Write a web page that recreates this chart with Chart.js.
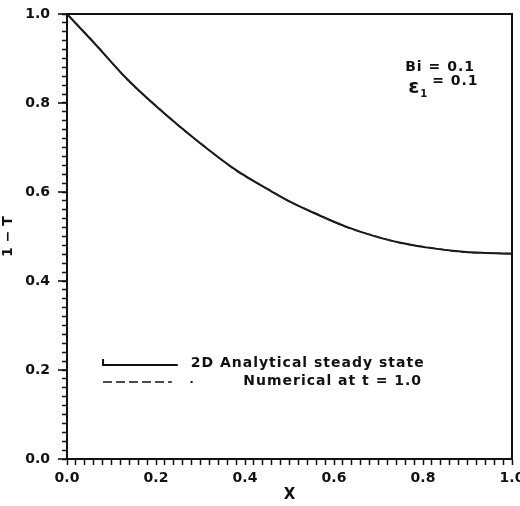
<!DOCTYPE html>
<html>
<head>
<meta charset="utf-8">
<script src="https://cdn.jsdelivr.net/npm/chart.js@4/dist/chart.umd.min.js"></script>
<style>
  html, body { margin:0; padding:0; background:#fff; }
  #wrap { width:520px; height:506px; }
</style>
</head>
<body>
<div id="wrap"><canvas id="grafico"></canvas></div>
<script>
// Dados
const posX = [0, 0.06, 0.135, 0.21, 0.25, 0.31, 0.38, 0.46, 0.50, 0.55, 0.63, 0.70, 0.75, 0.81, 0.89, 1.0];
const analitico = [1.0, 0.936, 0.854, 0.784, 0.750, 0.701, 0.649, 0.601, 0.579, 0.555, 0.521, 0.498, 0.486, 0.475, 0.466, 0.461];
const numerico  = [1.0, 0.937, 0.853, 0.785, 0.749, 0.702, 0.648, 0.602, 0.578, 0.556, 0.520, 0.499, 0.485, 0.476, 0.465, 0.462];
const rotulosX = ["0.0", "0.2", "0.4", "0.6", "0.8", "1.0"];
const rotulosY = ["0.0", "0.2", "0.4", "0.6", "0.8", "1.0"];
const legendaTextos = ["2D Analytical steady state", "Numerical at t = 1.0"];

const FONTE = "'DejaVu Sans', sans-serif";
const pares = (xs, ys) => xs.map((x, i) => ({ x, y: ys[i] }));
const ehMaior = v => Math.abs(v * 5 - Math.round(v * 5)) < 1e-6;
const rotulo = (lista, v) => ehMaior(v) ? lista[Math.round(v * 5)] : "";

// moldura, ticks maiores, legenda e parametros
const extras = {
  id: "extras",
  afterDraw(chart){
    const { ctx, chartArea: a, scales: { x, y } } = chart;
    ctx.save();
    ctx.strokeStyle = "#111"; ctx.lineWidth = 2;
    ctx.beginPath();
    ctx.moveTo(a.left, a.top); ctx.lineTo(a.right, a.top); ctx.lineTo(a.right, a.bottom);
    ctx.stroke();

    // ticks maiores do eixo Y um pouco mais longos
    ctx.lineWidth = 1.6;
    for (let v = 0; v <= 1.0001; v += 0.2){
      const py = y.getPixelForValue(v);
      ctx.beginPath(); ctx.moveTo(a.left - 9, py); ctx.lineTo(a.left, py); ctx.stroke();
    }

    // legenda
    const x0 = x.getPixelForValue(0.081), x1 = x.getPixelForValue(0.249);
    const yA = y.getPixelForValue(0.211), yN = y.getPixelForValue(0.173);
    ctx.lineWidth = 2;
    ctx.beginPath(); ctx.moveTo(x0, yA - 6); ctx.lineTo(x0, yA); ctx.lineTo(x1, yA); ctx.stroke();
    ctx.lineWidth = 1.6; ctx.setLineDash([9, 4]);
    ctx.beginPath(); ctx.moveTo(x0, yN); ctx.lineTo(x1 - 6, yN); ctx.stroke();
    ctx.setLineDash([]);
    ctx.fillStyle = "#111";
    ctx.fillRect(x.getPixelForValue(0.28) - 1, yN - 1, 2, 2);

    ctx.font = "bold 14px " + FONTE;
    ctx.letterSpacing = "1px";
    ctx.textBaseline = "middle"; ctx.textAlign = "left";
    ctx.fillText(legendaTextos[0], x.getPixelForValue(0.278), yA - 2);
    ctx.fillText(legendaTextos[1], x.getPixelForValue(0.396), yN - 1);

    // parametros
    const px = x.getPixelForValue(0.76);
    ctx.fillText("Bi = 0.1", px, y.getPixelForValue(0.881));
    ctx.font = "bold 20px " + FONTE;
    ctx.fillText("ε", px + 3, y.getPixelForValue(0.835));
    ctx.font = "bold 10px " + FONTE;
    ctx.fillText("1", px + 15, y.getPixelForValue(0.82));
    ctx.font = "bold 14px " + FONTE;
    ctx.fillText("= 0.1", px + 27, y.getPixelForValue(0.848));
    ctx.restore();
  }
};

new Chart(document.getElementById("grafico"), {
  type: "line",
  data: {
    datasets: [
      { label: legendaTextos[1], data: pares(posX, numerico), borderColor: "#222", borderWidth: 1.5,
        borderDash: [7, 4], pointRadius: 0, cubicInterpolationMode: "monotone", fill: false },
      { label: legendaTextos[0], data: pares(posX, analitico), borderColor: "#111", borderWidth: 2,
        pointRadius: 0, cubicInterpolationMode: "monotone", fill: false }
    ]
  },
  options: {
    responsive: true,
    maintainAspectRatio: false,
    animation: false,
    layout: { padding: { top: 14, right: 8, left: 0, bottom: 0 } },
    plugins: { legend: { display: false }, tooltip: { enabled: false } },
    scales: {
      x: {
        type: "linear", min: 0, max: 1,
        afterFit: s => { s.height = 47; s.paddingLeft = 0; s.paddingRight = 0; },
        border: { color: "#111", width: 2 },
        grid: { drawOnChartArea: false, tickLength: 6, tickColor: "#111", tickWidth: 1.5 },
        ticks: { stepSize: 0.02, autoSkip: false, maxRotation: 0, padding: 5, color: "#111",
                 font: { family: FONTE, size: 14, weight: "bold" },
                 callback: v => rotulo(rotulosX, v) },
        title: { display: true, text: "X", color: "#111", padding: { top: 0, bottom: 2 },
                 font: { family: FONTE, size: 15, weight: "bold" } }
      },
      y: {
        type: "linear", min: 0, max: 1,
        afterFit: s => { s.width = 67; s.paddingTop = 0; s.paddingBottom = 0; },
        border: { color: "#111", width: 2 },
        grid: { drawOnChartArea: false, tickLength: 5, tickColor: "#111", tickWidth: 1.5 },
        ticks: { stepSize: 0.02, autoSkip: false, padding: 12, color: "#111",
                 font: { family: FONTE, size: 14, weight: "bold" },
                 callback: v => rotulo(rotulosY, v) },
        title: { display: true, text: "1 − T", color: "#111", padding: { top: 0, bottom: 0 },
                 font: { family: FONTE, size: 14, weight: "bold" } }
      }
    }
  },
  plugins: [extras]
});
</script>
</body>
</html>
